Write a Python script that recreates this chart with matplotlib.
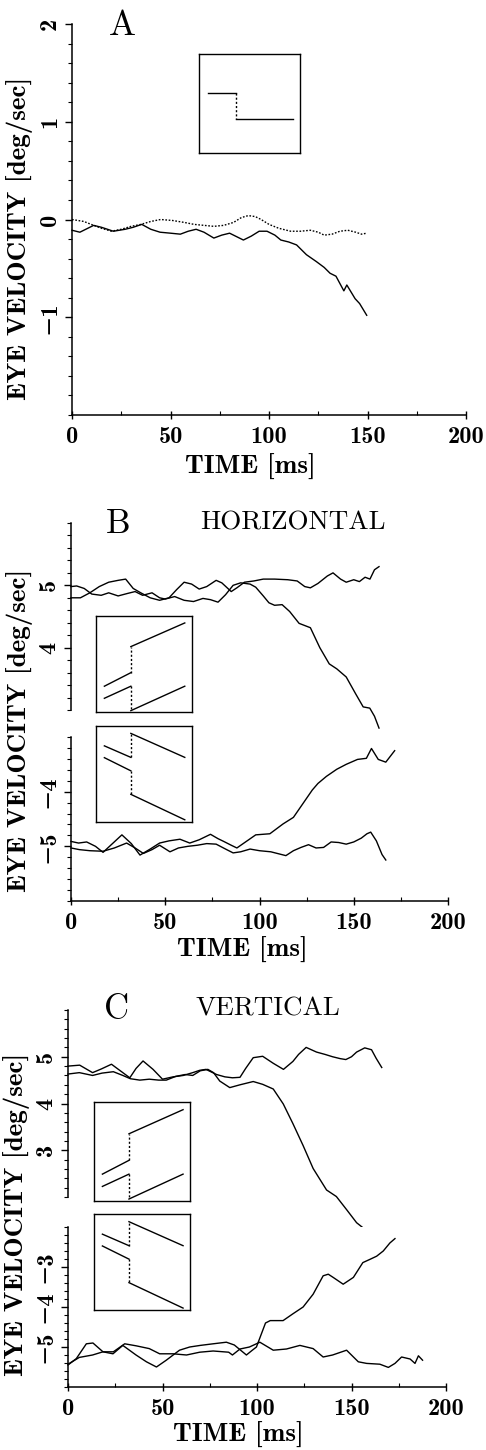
import matplotlib
matplotlib.use('Agg')
import matplotlib.pyplot as plt
from matplotlib.ticker import FixedLocator, FixedFormatter, MultipleLocator

plt.rcParams['font.family'] = ['cmb10', 'DejaVu Serif']

# ---- panel A: step stimulus ----
A_t_solid = [0, 4, 8, 11, 15, 21, 27, 31, 35.4, 40, 44.7, 50, 55, 59, 63, 67, 72, 76, 80, 84, 87,
             91, 95, 99, 103, 106, 110, 114, 119, 124, 128, 131, 134, 138, 139.5, 143.7, 146, 149.6]
A_v_solid = [-0.11, -0.13, -0.09, -0.06, -0.08, -0.12, -0.1, -0.08, -0.05, -0.1, -0.13, -0.14, -0.15,
             -0.12, -0.1, -0.13, -0.19, -0.16, -0.14, -0.18, -0.21, -0.17, -0.12, -0.12, -0.16, -0.21,
             -0.23, -0.26, -0.36, -0.43, -0.49, -0.55, -0.58, -0.73, -0.67, -0.81, -0.86, -0.98]
A_t_dot = [0, 6, 11, 15, 20, 25, 30, 35, 40, 45, 51, 57, 62, 67, 72, 77, 82, 86, 89.5, 93, 96, 100,
           105, 111, 116, 121, 125, 128, 132, 136, 140, 144, 147, 149.6]
A_v_dot = [0.0, -0.02, -0.06, -0.09, -0.12, -0.1, -0.07, -0.05, -0.02, 0.0, -0.01, -0.03, -0.05, -0.06,
           -0.07, -0.06, -0.03, 0.02, 0.04, 0.03, 0.0, -0.05, -0.09, -0.12, -0.12, -0.11, -0.13, -0.16,
           -0.15, -0.12, -0.11, -0.13, -0.15, -0.14]

# ---- panel B: horizontal ----
B_t_up1 = [0, 5, 10, 15, 20, 25, 29, 33, 37, 42, 47, 52, 56, 60, 64, 68, 72, 77, 80, 85, 88, 92, 97,
           102, 108, 115, 120, 124, 127, 131, 136, 139, 143, 146, 150, 153, 156, 158.6, 161, 163.4]
B_v_up1 = [4.8, 4.8, 4.88, 4.98, 5.05, 5.08, 5.1, 4.95, 4.88, 4.8, 4.76, 4.8, 4.93, 5.05, 5.02, 4.94,
           4.98, 5.08, 5.04, 4.9, 4.96, 5.05, 5.07, 5.1, 5.1, 5.09, 5.07, 4.98, 4.96, 5.03, 5.15, 5.2,
           5.1, 5.05, 5.09, 5.06, 5.13, 5.1, 5.25, 5.3]
B_t_up2 = [0, 3, 7, 11, 16, 20, 25, 30, 34, 38, 43, 47, 50, 55, 60, 65, 70, 74, 78, 82, 86, 90, 95,
           98, 102, 105, 108, 112, 116, 121, 127, 132, 137, 141, 146, 151, 155, 158.5, 161, 163.4]
B_v_up2 = [4.98, 4.99, 4.95, 4.86, 4.84, 4.88, 4.83, 4.87, 4.9, 4.84, 4.88, 4.8, 4.78, 4.82, 4.76,
           4.74, 4.79, 4.77, 4.73, 4.85, 5.0, 5.04, 5.02, 4.97, 4.83, 4.72, 4.68, 4.69, 4.58, 4.39,
           4.32, 4.0, 3.74, 3.66, 3.53, 3.26, 3.05, 3.03, 2.9, 2.71]
B_t_lo1 = [0, 4, 8.3, 13, 17, 22, 27, 32, 36.6, 42, 47, 52, 57.8, 63, 68, 74, 78, 81, 85, 88, 93, 98,
           105.5, 112.5, 118, 123, 128, 131, 135.5, 141, 146, 152, 156.7, 159.4, 163, 167, 171.7]
B_v_lo1 = [-4.91, -4.94, -4.92, -5.0, -5.11, -4.95, -4.79, -4.95, -5.16, -5.05, -4.94, -4.9, -4.87,
           -4.94, -4.88, -4.78, -4.86, -4.91, -4.98, -5.03, -4.91, -4.79, -4.77, -4.59, -4.47, -4.22,
           -3.97, -3.85, -3.72, -3.59, -3.5, -3.41, -3.39, -3.21, -3.41, -3.46, -3.25]
B_t_lo2 = [0, 4.4, 10, 17, 23, 29.5, 34, 38.4, 43, 47, 52.5, 57, 62, 67, 72, 77, 82, 86, 90, 95, 100,
           106, 114, 118, 122, 126, 130, 134, 138, 142, 146, 150, 154, 157, 159, 162, 165, 167]
B_v_lo2 = [-5.03, -5.06, -5.08, -5.09, -5.03, -4.94, -5.03, -5.13, -5.06, -4.98, -5.1, -5.03, -5.0,
           -4.98, -4.95, -4.96, -5.05, -5.12, -5.1, -5.05, -5.08, -5.1, -5.17, -5.08, -5.02, -4.97,
           -5.03, -5.02, -4.92, -4.93, -4.96, -4.92, -4.85, -4.77, -4.74, -4.9, -5.15, -5.25]

# ---- panel C: vertical ----
C_t_up1 = [0, 6.2, 13, 17.7, 23, 27, 32.7, 36, 39.7, 45, 50, 55.6, 61, 66, 69.7, 73, 78.6, 83, 87, 91,
           94, 98, 103, 108.6, 114, 119, 122, 126, 131.5, 136, 140, 144, 147, 150, 152.7, 157, 160.6,
           163, 166]
C_v_up1 = [4.8, 4.82, 4.66, 4.74, 4.84, 4.72, 4.55, 4.75, 4.91, 4.73, 4.52, 4.57, 4.6, 4.66, 4.71,
           4.73, 4.62, 4.57, 4.55, 4.56, 4.75, 4.98, 5.01, 4.86, 4.73, 4.9, 5.05, 5.2, 5.1, 5.05, 5.0,
           4.96, 4.94, 5.0, 5.1, 5.19, 5.15, 4.97, 4.77]
C_t_up2 = [0, 6, 13, 18, 24, 29, 33, 38, 43, 48, 52, 57, 62, 66, 70, 74, 77, 80.3, 85.6, 91, 98, 103,
           108.6, 113.9, 119, 124.4, 129.7, 136.8, 142, 147.4, 152.7, 158]
C_v_up2 = [4.63, 4.66, 4.6, 4.65, 4.68, 4.6, 4.53, 4.5, 4.52, 4.5, 4.5, 4.58, 4.62, 4.6, 4.7, 4.73,
           4.66, 4.48, 4.34, 4.4, 4.47, 4.41, 4.31, 3.99, 3.57, 3.1, 2.61, 2.15, 2.01, 1.73, 1.45, 1.28]
C_t_lo1 = [0, 4.4, 9.7, 13.2, 18.5, 23.8, 29, 36, 41.5, 46.8, 52, 59, 64.4, 70, 76.8, 83.8, 88, 94.4,
           97, 99.7, 104.5, 107, 113.8, 119, 124.4, 129.7, 135, 137.7, 140.3, 145.6, 151, 156, 159.7,
           163.3, 166.8, 170.3, 173]
C_v_lo1 = [-5.45, -5.29, -4.92, -4.9, -5.12, -5.17, -4.96, -5.2, -5.37, -5.5, -5.33, -5.08, -5.0,
           -4.96, -4.92, -4.88, -4.95, -5.2, -5.1, -5.0, -4.4, -4.34, -4.34, -4.17, -4.0, -3.68,
           -3.22, -3.18, -3.26, -3.43, -3.26, -2.89, -2.81, -2.73, -2.6, -2.4, -2.29]
C_t_lo2 = [0, 6, 13, 18.5, 24, 30, 36, 43, 48.5, 55.6, 62.7, 69.7, 76.8, 85, 87, 91, 96, 101.5, 108.6,
           115.6, 122.7, 129.7, 135, 140, 147.4, 153.6, 158, 165, 169.5, 173, 176.5, 181, 183.6,
           185.4, 187.6]
C_v_lo2 = [-5.43, -5.26, -5.2, -5.12, -5.12, -4.92, -4.97, -5.04, -5.17, -5.17, -5.2, -5.13, -5.1,
           -5.13, -5.2, -5.05, -5.0, -4.88, -5.08, -5.05, -4.96, -5.04, -5.25, -5.2, -5.08, -5.37,
           -5.41, -5.43, -5.51, -5.41, -5.25, -5.3, -5.41, -5.22, -5.33]

# inset stimulus sketches (box-relative 0..1): (xs, ys, dotted)
INSET_A = [([0.086, 0.364], [0.606, 0.606], False),
           ([0.364, 0.364], [0.606, 0.347], True),
           ([0.364, 0.927], [0.347, 0.347], False)]
INSET_UP = [([0.09, 0.365], [0.27, 0.41], False), ([0.365, 0.365], [0.41, 0.68], True),
            ([0.365, 0.925], [0.68, 0.925], False),
            ([0.09, 0.365], [0.145, 0.27], False), ([0.365, 0.365], [0.27, 0.017], True),
            ([0.365, 0.925], [0.017, 0.27], False)]
INSET_DOWN = [([0.09, 0.365], [0.79, 0.67], False), ([0.365, 0.365], [0.67, 0.92], True),
              ([0.365, 0.925], [0.92, 0.67], False),
              ([0.09, 0.365], [0.667, 0.53], False), ([0.365, 0.365], [0.53, 0.285], True),
              ([0.365, 0.925], [0.285, 0.02], False)]

W, H = 486, 1450
fig = plt.figure(figsize=(W / 100, H / 100), dpi=100)


def rect(l, t, r, b):
    return [l / W, 1 - b / H, (r - l) / W, (b - t) / H]


def lab(v):
    return str(int(v)).replace('-', '\u2212')


def make_ax(l, t, r, b, lo, hi, majors, xaxis=True):
    ax = fig.add_axes(rect(l, t, r, b))
    ax.set_xlim(0, 200)
    ax.set_ylim(lo, hi)
    ax.spines['top'].set_visible(False)
    ax.spines['right'].set_visible(False)
    ax.spines['left'].set_linewidth(1.1)
    ax.spines['bottom'].set_linewidth(1.1)
    ax.yaxis.set_major_locator(FixedLocator(majors))
    ax.yaxis.set_major_formatter(FixedFormatter([lab(v) for v in majors]))
    ax.yaxis.set_minor_locator(MultipleLocator(0.2))
    ax.tick_params(axis='y', which='major', direction='out', length=5, width=1, pad=3,
                   labelsize=17.5, labelrotation=90)
    ax.tick_params(axis='y', which='minor', direction='out', length=3, width=0.8)
    plt.setp(ax.get_yticklabels(), va='center')
    if xaxis:
        ax.xaxis.set_major_locator(MultipleLocator(50))
        ax.xaxis.set_minor_locator(MultipleLocator(25))
        ax.tick_params(axis='x', which='major', direction='inout', length=6, width=1, pad=5,
                       labelsize=17.5)
        ax.tick_params(axis='x', which='minor', direction='in', length=3, width=0.8)
    else:
        ax.spines['bottom'].set_visible(False)
        ax.tick_params(axis='x', which='both', bottom=False, labelbottom=False)
    return ax


def inset(l, t, r, b, segs):
    ia = fig.add_axes(rect(l, t, r, b))
    ia.set_xlim(0, 1)
    ia.set_ylim(0, 1)
    ia.set_xticks([])
    ia.set_yticks([])
    for s in ia.spines.values():
        s.set_linewidth(1.0)
    for xs, ys, dotted in segs:
        ia.plot(xs, ys, color='black', lw=1.0, ls=(0, (1.5, 1.5)) if dotted else '-')
    return ia


def ftext(x, y, s, **kw):
    fig.text(x / W, 1 - y / H, s, ha='center', va='center', **kw)


def curve(ax, t, v, **kw):
    ax.plot(t, v, color='black', lw=1.0, clip_on=False, **kw)


# panel A
axA = make_ax(72, 24, 466, 415, -2, 2, [-1, 0, 1, 2])
curve(axA, A_t_solid, A_v_solid)
curve(axA, A_t_dot, A_v_dot, ls=(0, (1.2, 1.2)))
inset(199, 54, 300, 153, INSET_A)
ftext(122, 26, 'A', fontsize=26, family='cmr10')
ftext(20, 238, 'EYE VELOCITY [deg/sec]', fontsize=19.5, rotation=90)
ftext(250, 467, 'TIME [ms]', fontsize=19.5)

# panel B
axBu = make_ax(71, 523, 448, 710, 3, 6, [4, 5], xaxis=False)
axBl = make_ax(71, 737, 448, 901, -6, -3, [-5, -4])
curve(axBu, B_t_up1, B_v_up1)
curve(axBu, B_t_up2, B_v_up2)
curve(axBl, B_t_lo1, B_v_lo1)
curve(axBl, B_t_lo2, B_v_lo2)
inset(95.7, 615.7, 192, 712.3, INSET_UP)
inset(95.7, 725.7, 192, 821.7, INSET_DOWN)
ftext(118, 524, 'B', fontsize=25, family='cmr10')
ftext(293, 523, 'HORIZONTAL', fontsize=19.5, family='cmr10')
ftext(20, 730, 'EYE VELOCITY [deg/sec]', fontsize=19.5, rotation=90)
ftext(242, 950, 'TIME [ms]', fontsize=19.5)

# panel C
axCu = make_ax(68, 1010, 446, 1197, 2, 6, [3, 4, 5], xaxis=False)
axCl = make_ax(68, 1227, 446, 1387, -6, -2, [-5, -4, -3])
curve(axCu, C_t_up1, C_v_up1)
curve(axCu, C_t_up2, C_v_up2)
curve(axCl, C_t_lo1, C_v_lo1)
curve(axCl, C_t_lo2, C_v_lo2)
inset(93.7, 1102.3, 190.3, 1200.7, INSET_UP)
inset(93.7, 1214, 190.3, 1310, INSET_DOWN)
ftext(117, 1010, 'C', fontsize=25, family='cmr10')
ftext(268, 1009, 'VERTICAL', fontsize=19.5, family='cmr10')
ftext(17, 1215, 'EYE VELOCITY [deg/sec]', fontsize=19.5, rotation=90)
ftext(238, 1435, 'TIME [ms]', fontsize=19.5)

fig.savefig('out.png', dpi=100)
